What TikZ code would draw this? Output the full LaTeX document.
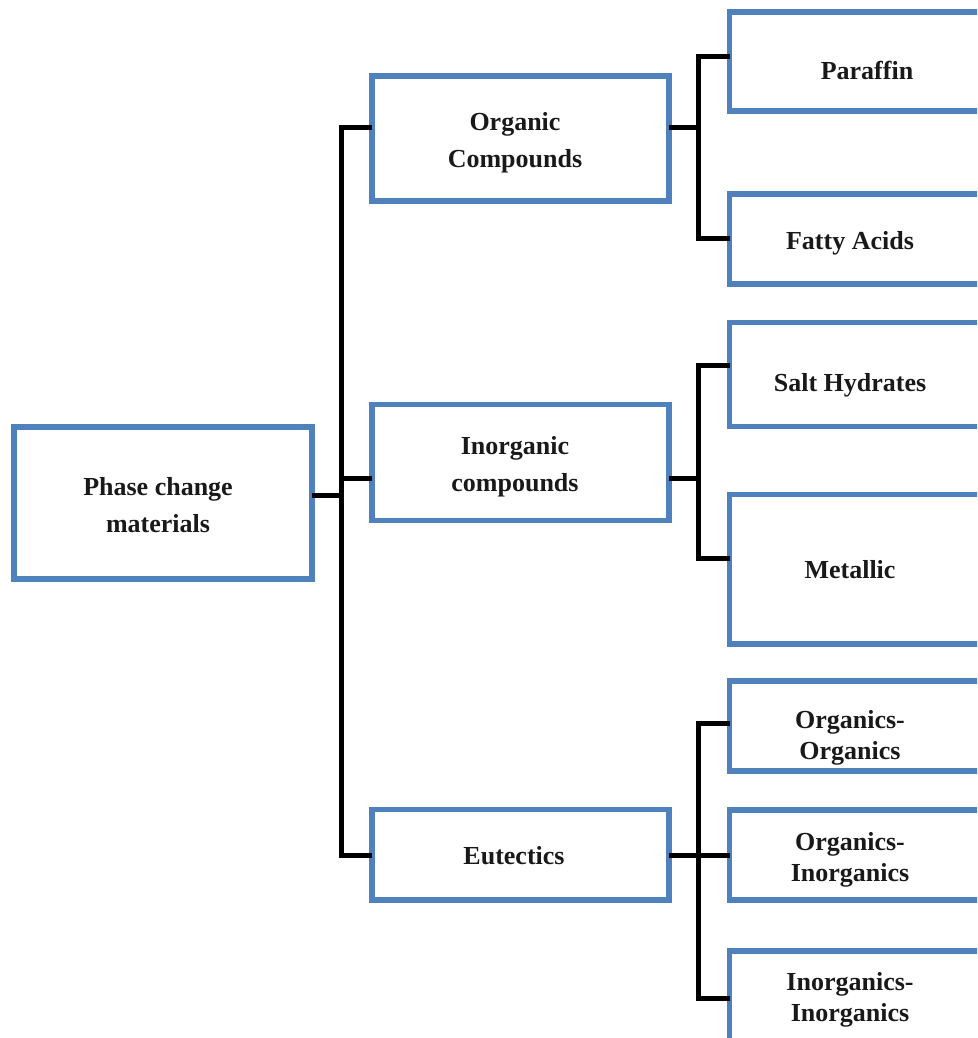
\documentclass[tikz,border=0pt]{standalone}
\usepackage{fontspec}
\setmainfont{Liberation Serif}
\definecolor{boxblue}{HTML}{4F81BD}
\begin{document}
\begin{tikzpicture}[x=1pt,y=-1pt,
  box/.style={draw=boxblue,line width=5.5pt,rectangle,inner sep=0pt,outer sep=0pt},
  lbl/.style={font=\fontsize{26}{37}\selectfont\bfseries,align=center,inner sep=0pt,text=black!90},
  lbls/.style={lbl,font=\fontsize{26}{30.5}\selectfont\bfseries},
  conn/.style={draw=black,line width=5pt}]
\useasboundingbox (0,0) rectangle (977,1038);
\clip (0,0) rectangle (977,1038);
% boxes
\node[box,minimum width=298pt,minimum height=152pt] (root) at (163,503) {};
\node[box,minimum width=297pt,minimum height=125pt] (org) at (520.5,138.5) {};
\node[box,minimum width=297pt,minimum height=116pt] (inorg) at (520.5,462.5) {};
\node[box,minimum width=297pt,minimum height=90.5pt] (eut) at (520.5,854.75) {};
\node[box,minimum width=280.5pt,minimum height=99pt] (par) at (869.75,61.5) {};
\node[box,minimum width=280.5pt,minimum height=90pt] (fat) at (869.75,239) {};
\node[box,minimum width=280.5pt,minimum height=104pt] (salt) at (869.75,374.5) {};
\node[box,minimum width=280.5pt,minimum height=149.5pt] (met) at (869.75,569.25) {};
\node[box,minimum width=280.5pt,minimum height=90pt] (oo) at (869.75,726) {};
\node[box,minimum width=280.5pt,minimum height=90pt] (oi) at (869.75,855) {};
\node[box,minimum width=280.5pt,minimum height=109pt] (ii) at (869.75,1005.5) {};
% labels
\node[lbl] (troot) at (158,505) {Phase change\\materials};
\node[lbl] (torg) at (515,143) {Organic\\Compounds};
\node[lbl] (tinorg) at (515,467) {Inorganic\\compounds};
\node[lbl] (teut) at (514,856) {Eutectics};
\node[lbl] (tpar) at (867,70) {Paraffin};
\node[lbl] (tfat) at (850,243) {Fatty Acids};
\node[lbl] (tsalt) at (850,385) {Salt Hydrates};
\node[lbl] (tmet) at (850,570) {Metallic};
\node[lbls] (too) at (850,738) {Organics-\\Organics};
\node[lbls] (toi) at (850,860) {Organics-\\Inorganics};
\node[lbls] (tii) at (850,1000) {Inorganics-\\Inorganics};
% junction coordinates
\coordinate (j0) at (341,495);
\coordinate (tTop) at (341,128);
\coordinate (tMid) at (341,478);
\coordinate (tBot) at (341,855);
\coordinate (s1a) at (698,57);
\coordinate (s1m) at (698,128);
\coordinate (s1b) at (698,238);
\coordinate (s2a) at (698,365);
\coordinate (s2m) at (698,478);
\coordinate (s2b) at (698,558);
\coordinate (s3a) at (698,723);
\coordinate (s3m) at (698,855);
\coordinate (s3b) at (698,998);
% connectors
\draw[conn] (root.east |- j0) -- (j0);
\draw[conn] (org.west |- tTop) -- (tTop) -- (tBot) -- (eut.west |- tBot);
\draw[conn] (tMid) -- (inorg.west |- tMid);
\draw[conn] (org.east |- s1m) -- (s1m);
\draw[conn] (par.west |- s1a) -- (s1a) -- (s1b) -- (fat.west |- s1b);
\draw[conn] (inorg.east |- s2m) -- (s2m);
\draw[conn] (salt.west |- s2a) -- (s2a) -- (s2b) -- (met.west |- s2b);
\draw[conn] (eut.east |- s3m) -- (oi.west |- s3m);
\draw[conn] (oo.west |- s3a) -- (s3a) -- (s3b) -- (ii.west |- s3b);
\end{tikzpicture}
\end{document}
